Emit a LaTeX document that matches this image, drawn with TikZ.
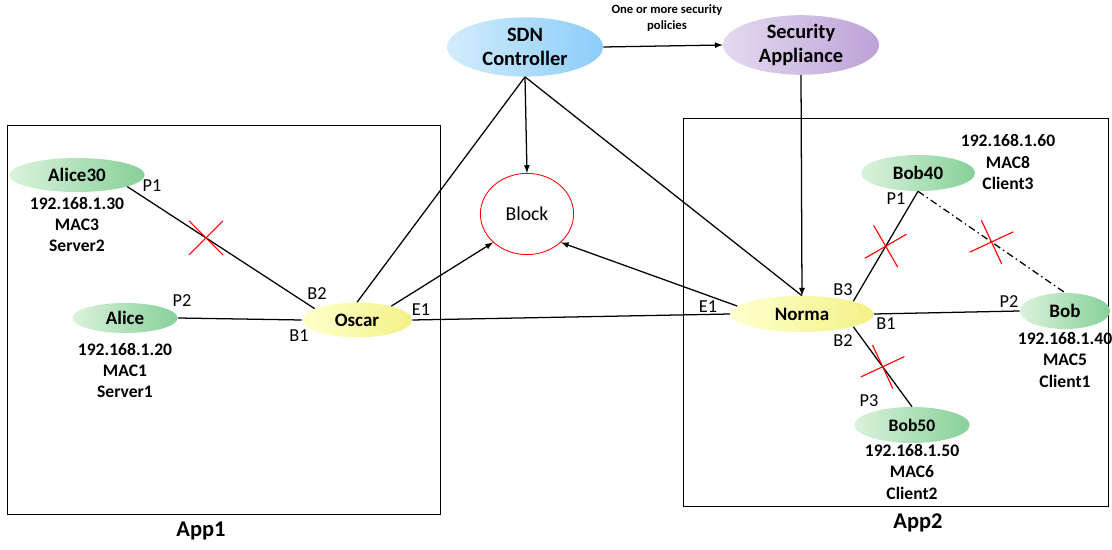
\documentclass[tikz,border=0pt]{standalone}
\usepackage{fontspec}
\setmainfont{Carlito}
\usetikzlibrary{positioning,shapes.geometric}

\definecolor{sdnL}{RGB}{210,236,252}
\definecolor{sdnR}{RGB}{140,205,250}
\definecolor{secL}{RGB}{228,218,240}
\definecolor{secR}{RGB}{188,162,215}
\definecolor{hostL}{RGB}{218,242,220}
\definecolor{hostR}{RGB}{135,208,152}
\definecolor{swL}{RGB}{255,255,205}
\definecolor{swR}{RGB}{242,242,135}

% red cut mark across a link
\newcommand{\cutmark}[2]{\draw[red,line width=0.8pt] (#1) ++(45+#2:0.6cm) -- ++(225+#2:1.2cm) (#1) ++(135+#2:0.6cm) -- ++(315+#2:1.2cm);}

\begin{document}
\begin{tikzpicture}[x=0.025cm,y=-0.025cm,node distance=0.1cm,>=latex]
  \tikzstyle{oval}=[ellipse,inner sep=0pt,align=center,font=\bfseries\fontsize{13.5}{16}\selectfont]
  \tikzstyle{host}=[oval,left color=hostL,right color=hostR]
  \tikzstyle{switch}=[oval,left color=swL,right color=swR]
  \tikzstyle{info}=[align=center,inner sep=0pt,font=\bfseries\fontsize{12.5}{15}\selectfont]
  \tikzstyle{port}=[inner sep=0pt,font=\fontsize{13}{15}\selectfont]
  \tikzstyle{link}=[line width=0.9pt]
  \useasboundingbox (0,0) rectangle (1112,550);

  % the two apps
  \draw[line width=0.6pt] (7,125) rectangle (440,514);
  \draw[line width=0.6pt] (683,118) rectangle (1108,506);
  \node[port,font=\bfseries\fontsize{16}{18}\selectfont] (app1) at (201,531) {App1};
  \node[port,font=\bfseries\fontsize{16}{18}\selectfont] (app2) at (918,523) {App2};

  % controller and appliance
  \node[oval,left color=sdnL,right color=sdnR,minimum width=3.9cm,minimum height=1.48cm,font=\bfseries\fontsize{14.5}{17.5}\selectfont] (sdn) at (525,47) {SDN\\Controller};
  \node[oval,left color=secL,right color=secR,minimum width=3.9cm,minimum height=1.35cm,font=\bfseries\fontsize{14.5}{17.5}\selectfont] (sec) at (801,45) {Security\\Appliance};
  \node[info,font=\bfseries\fontsize{9}{11}\selectfont] (pol) at (667,18) {One or more security\\policies};
  \node[ellipse,draw=red,fill=white,line width=0.6pt,minimum width=2.33cm,minimum height=2.03cm,font=\fontsize{14}{16}\selectfont] (block) at (527,214) {Block};

  % switches
  \node[switch,minimum width=2.75cm,minimum height=0.87cm] (oscar) at (357,320) {Oscar};
  \node[switch,minimum width=3.58cm,minimum height=0.9cm] (norma) at (802,314) {Norma};

  % hosts
  \node[host,minimum width=3.38cm,minimum height=0.85cm] (alice30) at (77,175) {Alice30};
  \node[info,below=0.12cm of alice30] (alice30info) {192.168.1.30\\MAC3\\Server2};
  \node[host,minimum width=2.63cm,minimum height=0.75cm] (alice) at (125,318) {Alice};
  \node[info,below=0.25cm of alice] (aliceinfo) {192.168.1.20\\MAC1\\Server1};
  \node[host,minimum width=2.85cm,minimum height=0.9cm] (bob40) at (918,173) {Bob40};
  \node[info] (bob40info) at (1008,162) {192.168.1.60\\MAC8\\Client3};
  \node[host,minimum width=2.25cm,minimum height=0.9cm] (bob) at (1065,311) {Bob};
  \node[info,below=0.08cm of bob] (bobinfo) {192.168.1.40\\MAC5\\Client1};
  \node[host,minimum width=2.88cm,minimum height=0.9cm,font=\bfseries\fontsize{12.5}{14}\selectfont] (bob50) at (912,425) {Bob50};
  \node[info,below=0.03cm of bob50] (bob50info) {192.168.1.50\\MAC6\\Client2};

  % links
  \draw[link,->] (sdn.east) -- (sec.west);
  \draw[link,->] (sdn.south) -- (block.north);
  \draw[link] (sdn.south) -- (oscar.north);
  \draw[link] (sdn.south) -- (norma.north);
  \draw[link,->] (sec.south) -- (norma.north);
  \draw[link,->] (oscar.22) -- (block.220);
  \draw[link,->] (norma.173) -- (block.-40);
  \draw[link] (alice30.-13) -- coordinate[pos=0.42] (cutA) (oscar.165);
  \draw[link] (alice.east) -- (oscar.west);
  \draw[link] (oscar.east) -- (norma.west);
  \draw[link] (norma.14) -- coordinate[pos=0.5] (cutB) (bob40.south);
  \draw[link,dash pattern=on 5pt off 2.5pt on 1pt off 2.5pt] (bob40.south) -- coordinate[pos=0.5] (cutC) (bob.north);
  \draw[link] (norma.east) -- (bob.west);
  \draw[link] (norma.-14) -- coordinate[pos=0.5] (cutD) (bob50.north);
  \cutmark{cutA}{0}
  \cutmark{cutB}{-15}
  \cutmark{cutC}{-20}
  \cutmark{cutD}{-20}

  % port names
  \node[port] (p1a) at (152,186) {P1};
  \node[port] (p2a) at (182,301) {P2};
  \node[port] (b2o) at (317,294) {B2};
  \node[port] (b1o) at (299,336) {B1};
  \node[port] (e1o) at (421,310) {E1};
  \node[port] (e1n) at (708,307) {E1};
  \node[port] (b3n) at (843,290) {B3};
  \node[port] (p1b) at (896,199) {P1};
  \node[port] (b1n) at (886,324) {B1};
  \node[port] (b2n) at (843,341) {B2};
  \node[port] (p3b) at (869,401) {P3};
  \node[port] (p2b) at (1009,302) {P2};
\end{tikzpicture}
\end{document}
